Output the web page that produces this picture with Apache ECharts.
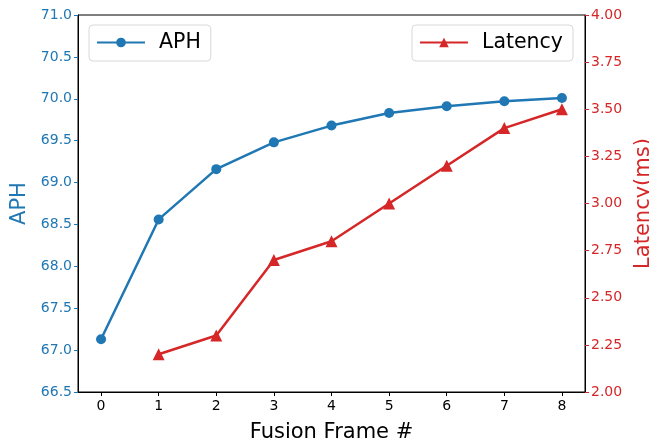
<!DOCTYPE html>
<html><head><meta charset="utf-8">
<script src="https://cdn.jsdelivr.net/npm/echarts@6/dist/echarts.min.js"></script>
<style>html,body{margin:0;padding:0;background:#fff}#c{width:649px;height:442px}</style>
</head><body><div id="c"></div>
<script>
const frames = [0,1,2,3,4,5,6,7,8];
const aph = [67.13,68.56,69.16,69.48,69.68,69.83,69.91,69.97,70.01];
const latFrames = [1,2,3,4,5,6,7,8];
const latency = [2.2,2.3,2.7,2.8,3.0,3.2,3.4,3.5];
const aphTicks = [66.5,67.0,67.5,68.0,68.5,69.0,69.5,70.0,70.5,71.0];
const latTicks = [2.0,2.25,2.5,2.75,3.0,3.25,3.5,3.75,4.0];

const blue='#1f77b4', red='#d62728';
const font='DejaVu Sans';
const chart = echarts.init(document.getElementById('c'));
chart.setOption({
  animation:false,
  textStyle:{fontFamily:font},
  grid:{left:78,right:64,top:15,bottom:50,show:true,borderColor:'#000',borderWidth:1,containLabel:false,outerBoundsMode:'none'},
  legend:[
    {data:['APH'],left:89,top:25,orient:'horizontal',itemWidth:48,itemHeight:12,padding:[7,10,8,7],
     borderColor:'#d8d8d8',borderWidth:1,borderRadius:4,textStyle:{fontSize:20.5,color:'#000',fontFamily:font,padding:[0,0,0,9]},itemGap:10},
    {data:['Latency'],right:76,top:25,itemWidth:48,itemHeight:12,padding:[7,10,8,7],
     borderColor:'#d8d8d8',borderWidth:1,borderRadius:4,textStyle:{fontSize:20.5,color:'#000',fontFamily:font,padding:[0,0,0,9]}}
  ],
  xAxis:{type:'value',min:-0.4,max:8.4,name:'Fusion Frame #',nameLocation:'middle',nameGap:30,
    nameTextStyle:{fontSize:21,color:'#000',fontFamily:font},
    axisLine:{show:true,onZero:false,lineStyle:{color:'#000'}},
    axisTick:{show:true,customValues:frames,length:4,lineStyle:{color:'#000'}},
    axisLabel:{customValues:frames,fontSize:14,color:'#000',margin:7,fontFamily:font},
    splitLine:{show:false}},
  yAxis:[
    {type:'value',min:66.5,max:71,interval:0.5,position:'left',name:'APH',nameLocation:'middle',nameGap:47,
     nameTextStyle:{fontSize:21,color:blue,fontFamily:font},
     axisLine:{show:true,onZero:false,lineStyle:{color:'#000'}},
     axisTick:{show:true,length:4,lineStyle:{color:blue}},
     axisLabel:{fontSize:14,color:blue,margin:6,fontFamily:font,formatter:v=>v.toFixed(1)},
     splitLine:{show:false}},
    {type:'value',min:2.0,max:4.0,interval:0.25,position:'right',name:'Latency(ms)',nameLocation:'middle',nameGap:36,
     nameTextStyle:{fontSize:21,color:red,fontFamily:font},
     axisLine:{show:true,onZero:false,lineStyle:{color:'#000'}},
     axisTick:{show:true,length:4,lineStyle:{color:red}},
     axisLabel:{fontSize:14,color:red,margin:6,fontFamily:font,formatter:v=>v.toFixed(2)},
     splitLine:{show:false}}
  ],
  series:[
    {name:'APH',type:'line',yAxisIndex:0,data:frames.map((f,i)=>[f,aph[i]]),
     color:blue,lineStyle:{width:2.5,color:blue},symbol:'circle',symbolSize:10,itemStyle:{color:blue}},
    {name:'Latency',type:'line',yAxisIndex:1,data:latFrames.map((f,i)=>[f,latency[i]]),
     color:red,lineStyle:{width:2.5,color:red},symbol:'triangle',symbolSize:12,itemStyle:{color:red}}
  ]
});
</script></body></html>
